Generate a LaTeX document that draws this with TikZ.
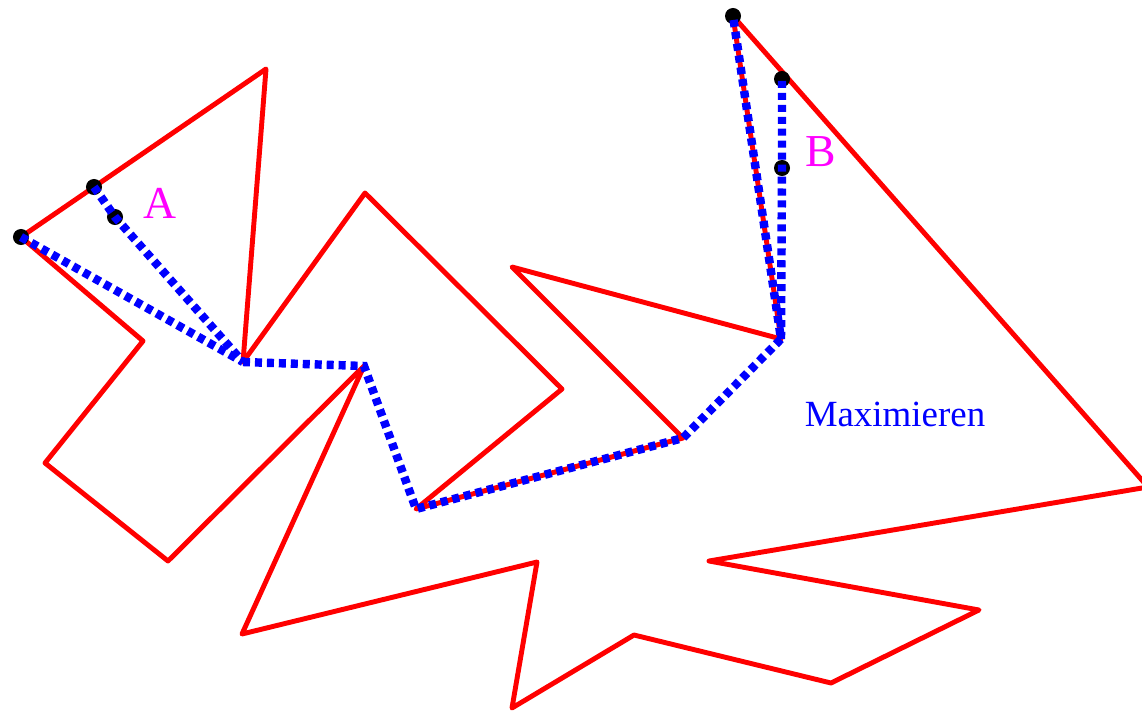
\documentclass[tikz,border=0pt]{standalone}
\usepackage{fontspec}
\setmainfont{Liberation Serif}
\usepackage{tikz}
\usetikzlibrary{calc}
\definecolor{lila}{RGB}{255,0,255}
\definecolor{rot}{RGB}{255,0,0}
\definecolor{blau}{RGB}{0,0,255}
\tikzset{
  rand/.style={draw=rot,line width=1.4pt,line join=round},
  weg/.style={draw=blau,line width=2.4pt,dash pattern=on 2pt off 1.4pt},
  punkt/.style={circle,fill=black,inner sep=0pt,minimum size=0.16cm},
  marke/.style={text=lila,font=\fontsize{13}{15}\selectfont}
}

\begin{document}
\begin{tikzpicture}[x=0.01cm,y=-0.01cm]
    \useasboundingbox (0,0) rectangle (1142,712);
    \coordinate (P01) at (21,237);
    \coordinate (P02) at (266,69);
    \coordinate (P03) at (243,362);
    \coordinate (P04) at (365,193);
    \coordinate (P05) at (562,389);
    \coordinate (P06) at (416,509);
    \coordinate (P07) at (683,438);
    \coordinate (P08) at (512,267);
    \coordinate (P09) at (781,339);
    \coordinate (P10) at (733,16);
    \coordinate (P11) at (1148,487);
    \coordinate (P12) at (709,561);
    \coordinate (P13) at (979,610);
    \coordinate (P14) at (831,683);
    \coordinate (P15) at (634,635);
    \coordinate (P16) at (512,708);
    \coordinate (P17) at (537,562);
    \coordinate (P18) at (242,634);
    \coordinate (P19) at (364,366);
    \coordinate (P20) at (168,561);
    \coordinate (P21) at (45,463);
    \coordinate (P22) at (143,341);
    \draw[rand] (P01) -- (P02) -- (P03) -- (P04) -- (P05) -- (P06) -- (P07)
      -- (P08) -- (P09) -- (P10) -- (P11) -- (P12) -- (P13) -- (P14) -- (P15)
      -- (P16) -- (P17) -- (P18) -- (P19) -- (P20) -- (P21) -- (P22) -- cycle;
    \node[punkt] (a1) at (P01) {};
    \node[punkt] (a2) at (94,187) {};
    \node[punkt] (a3) at (115,217) {};
    \node[punkt] (b1) at (P10) {};
    \node[punkt] (b2) at (782,79) {};
    \node[punkt] (b3) at (782,168) {};
    \draw[weg] (a1.center) -- (P03);
    \draw[weg] (a2.center) -- (a3.center) -- (P03);
    \draw[weg] (P03) -- (P19) -- (P06) -- (P07) -- (P09) -- (b1.center);
    \draw[weg] (P09) -- (b3.center) -- (b2.center);
    \node[marke] (A) at (160,203) {A};
    \node[marke] (B) at (821,152) {B};
    \node[text=blau,font=\fontsize{10.5}{12}\selectfont] (max) at (895,414) {Maximieren};
  \end{tikzpicture}
\end{document}
